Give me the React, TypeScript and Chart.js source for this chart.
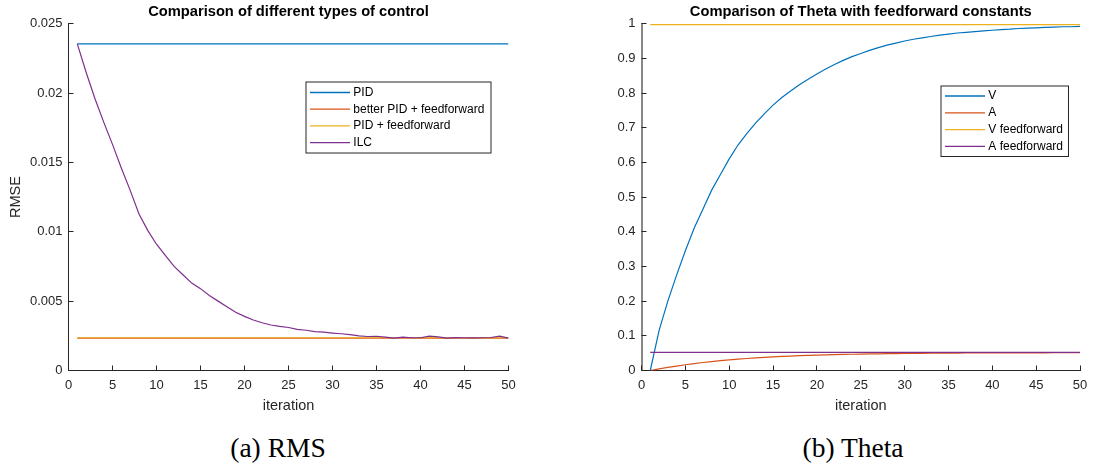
import React, { useEffect, useRef } from 'react';
import { Chart, registerables } from 'chart.js';

Chart.register(...registerables);

const FONT = "'Liberation Sans', Arial, Helvetica, sans-serif";
const AXIS_COLOR = '#262626';

// ---------- data ----------
const iterations = [
  1, 2, 3, 4, 5, 6, 7, 8, 9, 10, 11, 12, 13, 14, 15, 16, 17, 18, 19, 20, 21, 22, 23, 24, 25,
  26, 27, 28, 29, 30, 31, 32, 33, 34, 35, 36, 37, 38, 39, 40, 41, 42, 43, 44, 45, 46, 47, 48, 49, 50,
];
const constIterations = [1, 50];

const rmseSeriesNames = ['PID', 'better PID + feedforward', 'PID + feedforward', 'ILC'];
const pidRmse = [0.02354, 0.02354];
const betterPidFfRmse = [0.00233, 0.00233];
const pidFfRmse = [0.00236, 0.00236];
const ilcRmse = [
  0.02354, 0.0215, 0.0196, 0.0179, 0.0163, 0.0146, 0.013, 0.0113, 0.0101, 0.0091,
  0.0083, 0.0075, 0.0069, 0.0063, 0.0059, 0.0054, 0.005, 0.0046, 0.0042, 0.0039,
  0.00364, 0.00344, 0.00328, 0.00318, 0.0031, 0.00297, 0.0029, 0.0028, 0.00276, 0.0027,
  0.00265, 0.00258, 0.0025, 0.00245, 0.00247, 0.0024, 0.00234, 0.0024, 0.00236, 0.00236,
  0.00248, 0.00242, 0.00233, 0.00237, 0.00236, 0.00235, 0.00236, 0.00238, 0.00248, 0.00233,
];

const thetaSeriesNames = ['V', 'A', 'V feedforward', 'A feedforward'];
const thetaV = [
  0, 0.115, 0.2, 0.275, 0.345, 0.41, 0.465, 0.52, 0.565, 0.61,
  0.65, 0.683, 0.713, 0.74, 0.765, 0.787, 0.806, 0.824, 0.84, 0.855,
  0.869, 0.882, 0.894, 0.905, 0.914, 0.923, 0.931, 0.938, 0.944, 0.95,
  0.955, 0.959, 0.963, 0.967, 0.97, 0.973, 0.975, 0.977, 0.979, 0.981,
  0.983, 0.984, 0.986, 0.987, 0.988, 0.989, 0.99, 0.991, 0.991, 0.992,
];
const thetaA = [
  0, 0.0045, 0.0088, 0.0128, 0.0165, 0.0199, 0.023, 0.0258, 0.0283, 0.0306,
  0.0327, 0.0346, 0.0363, 0.0378, 0.0392, 0.0405, 0.0416, 0.0426, 0.0435, 0.0443,
  0.045, 0.0457, 0.0463, 0.0468, 0.0473, 0.0477, 0.0481, 0.0484, 0.0487, 0.049,
  0.0493, 0.0495, 0.0497, 0.0499, 0.0501, 0.0502, 0.0504, 0.0505, 0.0506, 0.0507,
  0.0508, 0.0509, 0.051, 0.051, 0.0511, 0.0511, 0.0512, 0.0512, 0.0512, 0.0513,
];
const vFeedforward = [0.997, 0.997];
const aFeedforward = [0.052, 0.052];

const xTicks = [0, 5, 10, 15, 20, 25, 30, 35, 40, 45, 50];
const xTickLabels = ['0', '5', '10', '15', '20', '25', '30', '35', '40', '45', '50'];
const rmseTicks = [0, 0.005, 0.01, 0.015, 0.02, 0.025];
const rmseTickLabels = ['0', '0.005', '0.01', '0.015', '0.02', '0.025'];
const thetaTicks = [0, 0.1, 0.2, 0.3, 0.4, 0.5, 0.6, 0.7, 0.8, 0.9, 1];
const thetaTickLabels = ['0', '0.1', '0.2', '0.3', '0.4', '0.5', '0.6', '0.7', '0.8', '0.9', '1'];

const seriesColors = ['#0072BD', '#D95319', '#EDB120', '#7E2F8E'];

// ---------- helpers ----------
const pts = (xs: number[], ys: number[]) => xs.map((x, i) => ({ x, y: ys[i] }));

const matlabPlugin = {
  id: 'matlabAxes',
  afterDraw(chart: any, _args: any, opts: any) {
    const ctx = chart.ctx;
    const { left, bottom } = chart.chartArea;
    const xs = chart.scales.x;
    const ys = chart.scales.y;
    const tl = opts.tickLen;
    ctx.save();
    ctx.strokeStyle = AXIS_COLOR;
    ctx.lineWidth = 1;
    ctx.beginPath();
    xs.ticks.forEach((t: any) => {
      const px = Math.floor(xs.getPixelForValue(t.value)) + 0.5;
      ctx.moveTo(px, bottom);
      ctx.lineTo(px, bottom - tl);
    });
    ys.ticks.forEach((t: any) => {
      const py = Math.floor(ys.getPixelForValue(t.value)) + 0.5;
      ctx.moveTo(left, py);
      ctx.lineTo(left + tl, py);
    });
    ctx.stroke();

    const lg = opts.legend;
    ctx.fillStyle = '#ffffff';
    ctx.fillRect(lg.x, lg.y, lg.w, lg.h);
    ctx.strokeStyle = AXIS_COLOR;
    ctx.lineWidth = 1;
    ctx.strokeRect(lg.x + 0.5, lg.y + 0.5, lg.w, lg.h);
    ctx.font = `12px ${FONT}`;
    ctx.textBaseline = 'middle';
    ctx.textAlign = 'left';
    chart.data.datasets.forEach((ds: any, i: number) => {
      const cy = lg.y + lg.firstRow + i * lg.rowGap;
      ctx.strokeStyle = ds.borderColor;
      ctx.lineWidth = 1.3;
      ctx.beginPath();
      ctx.moveTo(lg.x + lg.lineX0, cy);
      ctx.lineTo(lg.x + lg.lineX1, cy);
      ctx.stroke();
      ctx.fillStyle = '#000000';
      ctx.fillText(ds.label, lg.x + lg.textX, cy);
    });
    ctx.restore();
  },
};

function makeConfig(p: {
  title: string;
  datasets: any[];
  yMax: number;
  yTicks: number[];
  yTickLabels: string[];
  yTitle: string | null;
  yWidth: number;
  padRight: number;
  yBorderColor: string;
  yBorderWidth: number;
  legend: any;
}) {
  return {
    type: 'line',
    data: { datasets: p.datasets },
    plugins: [matlabPlugin],
    options: {
      animation: false,
      responsive: false,
      parsing: true,
      layout: { padding: { left: 0, right: p.padRight, top: 0, bottom: 0 } },
      elements: { point: { radius: 0 }, line: { tension: 0 } },
      plugins: {
        legend: { display: false },
        tooltip: { enabled: false },
        title: {
          display: true,
          text: p.title,
          fullSize: false,
          color: '#000000',
          font: { family: FONT, size: 14.7, weight: 'bold', lineHeight: 1.2 },
          padding: { top: 3, bottom: 3 },
        },
        matlabAxes: { tickLen: 5, legend: p.legend },
      },
      scales: {
        x: {
          type: 'linear',
          min: 0,
          max: 50,
          afterBuildTicks: (s: any) => {
            s.ticks = xTicks.map((v) => ({ value: v }));
          },
          afterFit: (s: any) => {
            s.height = 54.5;
          },
          grid: { display: false, drawTicks: false },
          border: { display: true, color: AXIS_COLOR, width: 1 },
          ticks: {
            color: AXIS_COLOR,
            font: { family: FONT, size: 13 },
            padding: 6.7,
            maxRotation: 0,
            autoSkip: false,
            callback: (_v: any, i: number) => xTickLabels[i],
          },
          title: {
            display: true,
            text: 'iteration',
            color: AXIS_COLOR,
            font: { family: FONT, size: 14.5 },
            padding: { top: 0, bottom: 10.7 },
          },
        },
        y: {
          type: 'linear',
          min: 0,
          max: p.yMax,
          afterBuildTicks: (s: any) => {
            s.ticks = p.yTicks.map((v) => ({ value: v }));
          },
          afterFit: (s: any) => {
            s.width = p.yWidth;
          },
          grid: { display: false, drawTicks: false },
          border: { display: true, color: p.yBorderColor, width: p.yBorderWidth },
          ticks: {
            color: AXIS_COLOR,
            font: { family: FONT, size: 13 },
            padding: 6,
            autoSkip: false,
            callback: (_v: any, i: number) => p.yTickLabels[i],
          },
          title: {
            display: !!p.yTitle,
            text: p.yTitle || '',
            color: AXIS_COLOR,
            font: { family: FONT, size: 14.5 },
            padding: { top: 7, bottom: 0 },
          },
        },
      },
    },
  };
}

function ds(label: string, data: any[], color: string, order: number) {
  return {
    label,
    data,
    borderColor: color,
    backgroundColor: color,
    borderWidth: 1.2,
    pointRadius: 0,
    fill: false,
    order,
  };
}

function ChartCanvas({ config, left }: { config: any; left: number }) {
  const ref = useRef<HTMLCanvasElement | null>(null);
  useEffect(() => {
    if (!ref.current) return;
    const chart = new Chart(ref.current, config);
    return () => chart.destroy();
  }, [config]);
  return (
    <canvas
      ref={ref}
      width={547}
      height={425}
      style={{ position: 'absolute', left, top: 0, width: 547, height: 425 }}
    />
  );
}

const rmseConfig = makeConfig({
  title: 'Comparison of different types of control',
  datasets: [
    ds(rmseSeriesNames[0], pts(constIterations, pidRmse), seriesColors[0], 0),
    ds(rmseSeriesNames[1], pts(constIterations, betterPidFfRmse), seriesColors[1], -1),
    ds(rmseSeriesNames[2], pts(constIterations, pidFfRmse), seriesColors[2], -2),
    ds(rmseSeriesNames[3], pts(iterations, ilcRmse), seriesColors[3], -3),
  ],
  yMax: 0.025,
  yTicks: rmseTicks,
  yTickLabels: rmseTickLabels,
  yTitle: 'RMSE',
  yWidth: 68.5,
  padRight: 38.5,
  yBorderColor: AXIS_COLOR,
  yBorderWidth: 1,
  legend: { x: 305.5, y: 81.5, w: 185, h: 71, firstRow: 11, rowGap: 16.7, lineX0: 4.5, lineX1: 44.5, textX: 47.8 },
});

const thetaConfig = makeConfig({
  title: 'Comparison of Theta with feedforward constants',
  datasets: [
    ds(thetaSeriesNames[0], pts(iterations, thetaV), seriesColors[0], 0),
    ds(thetaSeriesNames[1], pts(iterations, thetaA), seriesColors[1], -1),
    ds(thetaSeriesNames[2], pts(constIterations, vFeedforward), seriesColors[2], -2),
    ds(thetaSeriesNames[3], pts(constIterations, aFeedforward), seriesColors[3], -3),
  ],
  yMax: 1,
  yTicks: thetaTicks,
  yTickLabels: thetaTickLabels,
  yTitle: null,
  yWidth: 94.5,
  padRight: 12.5,
  yBorderColor: '#888888',
  yBorderWidth: 2,
  legend: { x: 393.5, y: 85.5, w: 127.5, h: 70.5, firstRow: 10.5, rowGap: 16.8, lineX0: 4.5, lineX1: 44.5, textX: 47.8 },
});

const captionStyle: React.CSSProperties = {
  position: 'absolute',
  top: 434,
  width: 300,
  textAlign: 'center',
  fontFamily: "'Liberation Serif', 'Times New Roman', serif",
  fontSize: 27.5,
  lineHeight: 1,
  color: '#000',
  whiteSpace: 'nowrap',
};

export default function App() {
  return (
    <div style={{ position: 'absolute', left: 0, top: 0, width: 1094, height: 468, background: '#fff', overflow: 'hidden' }}>
      <ChartCanvas config={rmseConfig} left={0} />
      <ChartCanvas config={thetaConfig} left={547} />
      <div style={{ ...captionStyle, left: 278 - 150 }}>(a) RMS</div>
      <div style={{ ...captionStyle, left: 853 - 150 }}>(b) Theta</div>
    </div>
  );
}
